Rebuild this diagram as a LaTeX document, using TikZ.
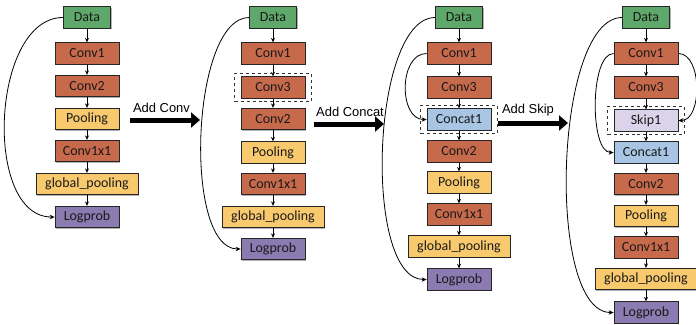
\documentclass[tikz,border=0pt]{standalone}
\usepackage{fontspec}
\setmainfont{Carlito}
\newfontfamily\labfont{Liberation Sans}
\usetikzlibrary{arrows.meta,shadows,fit}
\definecolor{cgreen}{HTML}{5DA86A}
\definecolor{cbrown}{HTML}{C7694B}
\definecolor{cyellow}{HTML}{F9C96E}
\definecolor{cpurple}{HTML}{8B7BB1}
\definecolor{cblue}{HTML}{A8C5E3}
\definecolor{clav}{HTML}{DAD3EA}
\begin{document}
\begin{tikzpicture}[x=1bp,y=-1bp,
  box/.style={draw=black!85,line width=0.8bp,inner sep=0pt,minimum height=21.5bp,minimum width=64bp,
    font=\fontsize{14}{15}\selectfont,text=black!90,
    drop shadow={shadow xshift=1.2bp,shadow yshift=-1.2bp,fill=black,opacity=0.3}},
  data/.style={box,fill=cgreen,minimum width=47bp},
  conv/.style={box,fill=cbrown},
  pool/.style={box,fill=cyellow},
  gpool/.style={box,fill=cyellow,minimum width=102bp},
  logp/.style={box,fill=cpurple},
  cat/.style={box,fill=cblue},
  skp/.style={box,fill=clav},
  flow/.style={-{Stealth[length=4.5bp,width=4bp]},line width=0.8bp,black},
  skipc/.style={-{Stealth[length=5bp,width=4.5bp]},line width=0.8bp,black},
  dbox/.style={draw=black!80,dashed,line width=0.8bp,inner xsep=6bp,inner ysep=3bp},
  bigarrow/.style={line width=5bp,-{Triangle[length=9bp,width=15bp]}},
  lab/.style={font=\labfont\fontsize{13}{15}\selectfont,inner sep=0pt}
]
\useasboundingbox (0,0) rectangle (696,324);

% ---------- column 1 ----------
\node[data]  (a1) at (87,17.5) {Data};
\node[conv]  (a2) at (87,53.5) {Conv1};
\node[conv]  (a3) at (87,86) {Conv2};
\node[pool]  (a4) at (87,119) {Pooling};
\node[conv]  (a5) at (87,151) {Conv1x1};
\node[gpool] (a6) at (87,184) {global\_pooling};
\node[logp]  (a7) at (87,217) {Logprob};
\foreach \i/\j in {1/2,2/3,3/4,4/5,5/6,6/7} \draw[flow] (a\i) -- (a\j);
\draw[skipc] (a1.west) .. controls +(-72,0) and +(-72,0) .. (a7.west);

% ---------- column 2 ----------
\node[data]  (b1) at (273,17.5) {Data};
\node[conv]  (b2) at (273,53.5) {Conv1};
\node[conv]  (b3) at (273,87.5) {Conv3};
\node[conv]  (b4) at (273,119) {Conv2};
\node[pool]  (b5) at (273,152.5) {Pooling};
\node[conv]  (b6) at (273,184) {Conv1x1};
\node[gpool] (b7) at (273,217) {global\_pooling};
\node[logp]  (b8) at (273,249) {Logprob};
\foreach \i/\j in {1/2,2/3,3/4,4/5,5/6,6/7,7/8} \draw[flow] (b\i) -- (b\j);
\draw[skipc] (b1.west) .. controls +(-58,0) and +(-58,0) .. (b8.west);
\node[dbox,fit=(b3)] (bd) {};

% ---------- column 3 ----------
\node[data]  (c1) at (459,17.5) {Data};
\node[conv]  (c2) at (459,53.5) {Conv1};
\node[conv]  (c3) at (459,87.5) {Conv3};
\node[cat]   (c4) at (459,119.5) {Concat1};
\node[conv]  (c5) at (459,151.5) {Conv2};
\node[pool]  (c6) at (459,182.5) {Pooling};
\node[conv]  (c7) at (459,214.5) {Conv1x1};
\node[gpool] (c8) at (459,246.5) {global\_pooling};
\node[logp]  (c9) at (459,279.5) {Logprob};
\foreach \i/\j in {1/2,2/3,3/4,4/5,5/6,6/7,7/8,8/9} \draw[flow] (c\i) -- (c\j);
\draw[skipc] (c1.west) .. controls +(-64,0) and +(-64,0) .. (c9.west);
\draw[skipc] (c2.west) .. controls +(-28,0) and +(-28,0) .. (c4.west);
\node[dbox,fit=(c4)] (cd) {};

% ---------- column 4 ----------
\node[data]  (d1) at (646,17.5) {Data};
\node[conv]  (d2) at (646,53.5) {Conv1};
\node[conv]  (d3) at (646,87.5) {Conv3};
\node[skp]   (d4) at (646,120.5) {Skip1};
\node[cat]   (d5) at (646,152.5) {Concat1};
\node[conv]  (d6) at (646,184) {Conv2};
\node[pool]  (d7) at (646,216) {Pooling};
\node[conv]  (d8) at (646,247.5) {Conv1x1};
\node[gpool] (d9) at (646,279) {global\_pooling};
\node[logp]  (d10) at (646,312.5) {Logprob};
\foreach \i/\j in {1/2,2/3,3/4,4/5,5/6,6/7,7/8,8/9,9/10} \draw[flow] (d\i) -- (d\j);
\draw[skipc] (d1.west) .. controls +(-68,0) and +(-68,0) .. (d10.west);
\draw[skipc] (d2.west) .. controls +(-24,0) and +(-24,0) .. (d5.west);
\draw[skipc] (d2.east) .. controls +(24,0) and +(24,0) .. (d4.east);
\node[dbox,fit=(d4)] (dd) {};

% ---------- transition arrows ----------
\coordinate (t1s) at (130,120); \coordinate (t1e) at (200,120);
\draw[bigarrow] (t1s) -- (t1e);
\node[lab] (t1l) at (161.5,107.5) {Add Conv};
\coordinate (t2s) at (314,124); \coordinate (t2e) at (384,124);
\draw[bigarrow] (t2s) -- (t2e);
\node[lab] (t2l) at (350,111.5) {Add Concat};
\coordinate (t3s) at (498,123); \coordinate (t3e) at (568,123);
\draw[bigarrow] (t3s) -- (t3e);
\node[lab] (t3l) at (528,110.5) {Add Skip};
\end{tikzpicture}
\end{document}
